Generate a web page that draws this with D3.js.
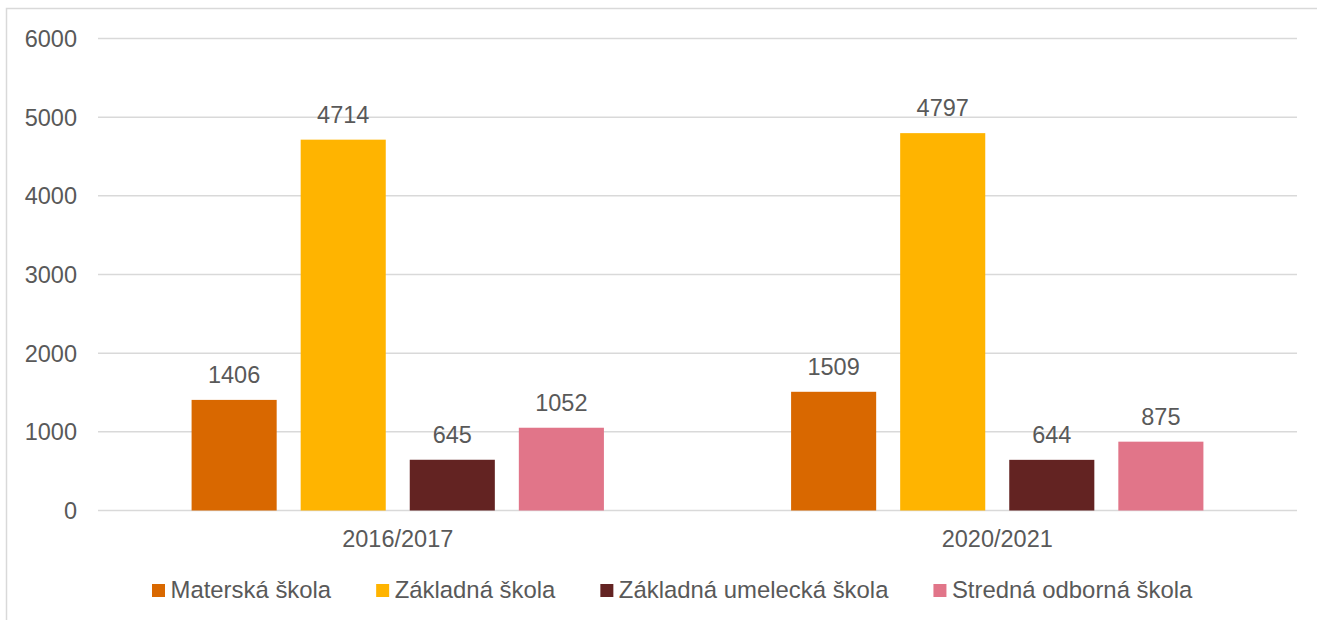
<!DOCTYPE html>
<html>
<head>
<meta charset="utf-8">
<script src="https://cdn.jsdelivr.net/npm/d3@7"></script>
<style>
  body { margin: 0; background: #fff; }
  svg { display: block; font-family: "Liberation Sans", Arial, sans-serif; }
</style>
</head>
<body>
<svg id="chart" width="1317" height="620"></svg>
<script>
// data
const years = ["2016/2017", "2020/2021"];
const schools = ["Materská škola", "Základná škola", "Základná umelecká škola", "Stredná odborná škola"];
const values2016 = [1406, 4714, 645, 1052];
const values2020 = [1509, 4797, 644, 875];
const colors = ["#D96800", "#FFB400", "#632322", "#E17589"];
const yTicks = [0, 1000, 2000, 3000, 4000, 5000, 6000];

const rows = years.map((y, i) => ({
    year: y,
    vals: (i === 0 ? values2016 : values2020)
}));

const svg = d3.select("#chart");
const textColor = "#595959";
const fontSize = 23.5;

// outer frame
svg.append("rect")
    .attr("x", 6.5).attr("y", 8.5)
    .attr("width", 1330).attr("height", 640)
    .attr("fill", "none")
    .attr("stroke", "#D9D9D9").attr("stroke-width", 1.5);

let plotLeft = 98, plotRight = 1297, plotTop = 38.5, plotBottom = 510.5;

let y = d3.scaleLinear().domain([0, 6000]).range([plotBottom, plotTop]);
let x0 = d3.scaleBand().domain(years).range([plotLeft, plotRight]).padding(0);
let x1 = d3.scaleBand().domain(schools)
    .range([0, x0.bandwidth()])
    .paddingInner(0.22).paddingOuter(0.858);

// gridlines
svg.append("g").selectAll("line")
    .data(yTicks)
    .enter().append("line")
    .attr("x1", plotLeft).attr("x2", plotRight)
    .attr("y1", d => y(d)).attr("y2", d => y(d))
    .attr("stroke", "#D9D9D9").attr("stroke-width", 1.5);

// y tick labels
svg.append("g").selectAll("text")
    .data(yTicks)
    .enter().append("text")
    .attr("x", 77).attr("y", d => y(d))
    .attr("dy", "0.36em")
    .attr("text-anchor", "end")
    .attr("fill", textColor).attr("font-size", fontSize)
    .text(d => d);

// bars
let groups = svg.append("g").selectAll("g")
    .data(rows)
    .enter().append("g")
    .attr("transform", d => "translate(" + x0(d.year) + ",0)");

groups.selectAll("rect")
    .data(d => d.vals.map((v, i) => ({school: schools[i], value: v, i: i})))
    .enter().append("rect")
    .attr("x", d => x1(d.school))
    .attr("width", x1.bandwidth())
    .attr("y", d => y(d.value))
    .attr("height", d => y(0) - y(d.value))
    .attr("fill", d => colors[d.i]);

groups.selectAll("text")
    .data(d => d.vals.map((v, i) => ({school: schools[i], value: v})))
    .enter().append("text")
    .attr("x", d => x1(d.school) + x1.bandwidth() / 2)
    .attr("y", d => y(d.value) - 17)
    .attr("text-anchor", "middle")
    .attr("fill", textColor).attr("font-size", fontSize)
    .text(d => d.value);

// x category labels
svg.append("g").selectAll("text")
    .data(years)
    .enter().append("text")
    .attr("x", d => x0(d) + x0.bandwidth() / 2)
    .attr("y", 547)
    .attr("text-anchor", "middle")
    .attr("fill", textColor).attr("font-size", fontSize)
    .text(d => d);

// legend
let legend = svg.append("g");
let lx = 152;
schools.forEach((s, i) => {
    let item = legend.append("g").attr("transform", "translate(" + lx + ",0)");
    item.append("rect")
        .attr("x", 0).attr("y", 584)
        .attr("width", 13).attr("height", 13)
        .attr("fill", colors[i]);
    let t = item.append("text")
        .attr("x", 18.5).attr("y", 598)
        .attr("fill", textColor).attr("font-size", 23.9)
        .text(s);
    lx += 18.5 + t.node().getComputedTextLength() + 45;
});
</script>
</body>
</html>
